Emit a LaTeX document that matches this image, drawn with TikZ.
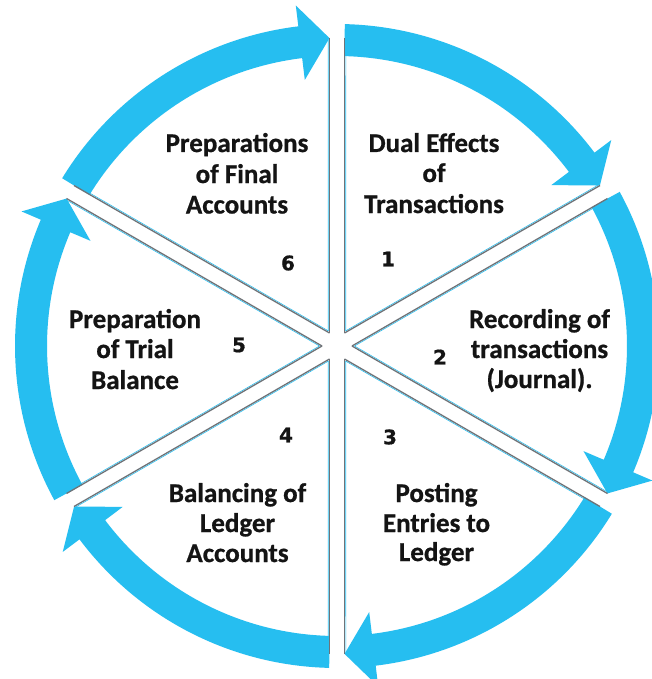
\documentclass[tikz,border=0pt]{standalone}
\usepackage{fontspec}
\setmainfont{Carlito}[BoldFeatures={FakeBold=0.8}]
\newfontfamily\numfont{DejaVu Sans}[BoldFeatures={FakeBold=0.8}]
\usetikzlibrary{calc}
\definecolor{ringblue}{RGB}{38,190,240}
\definecolor{linegray}{RGB}{110,115,120}
\definecolor{txt}{RGB}{20,20,20}
\begin{document}
\begin{tikzpicture}[x=1pt,y=1pt,
  lbl/.style={anchor=base, font=\fontsize{27}{30}\selectfont\bfseries, text=txt, inner sep=0pt},
  num/.style={anchor=center, font=\fontsize{20}{21}\selectfont\numfont\bfseries, text=txt, inner sep=0pt},
  ringarrow/.style={fill=ringblue, draw=none},
  sepline/.style={draw=linegray, line width=1.3pt},
  septint/.style={draw=ringblue, line width=0.6pt}]
\useasboundingbox (0,0) rectangle (651,-679);
\fill[white] (0,0) rectangle (651,-679);
\coordinate (c) at (337,-346);

% ring arrows (clockwise)
\foreach \A in {90,30,-30,-90,-150,-210} {
  \pgfmathsetmacro\s{\A-1.4}
  \pgfmathsetmacro\t{\A-60+1.4}
  \pgfmathsetmacro\h{\t+5.5}
  \fill[ringarrow] ($(c)+(\s:322)$) arc[start angle=\s, end angle=\h, radius=322]
     -- ($(c)+(\h:343)$) -- ($(c)+(\t:308)$) -- ($(c)+(\h:268)$)
     -- ($(c)+(\h:290)$) arc[start angle=\h, end angle=\s, radius=290] -- cycle;
}

% separator lines (wedge edges)
\foreach \p in {90,30,-30,-90,-150,-210} {
  \draw[septint] ($(c)+(\p-30:17.5)$) -- ($(c)+(\p:306)+(\p-90:8.8)$);
  \draw[septint] ($(c)+(\p+30:17.5)$) -- ($(c)+(\p:306)+(\p+90:8.8)$);
  \draw[sepline] ($(c)+(\p-30:15)$) -- ($(c)+(\p:308)+(\p-90:7.5)$);
  \draw[sepline] ($(c)+(\p+30:15)$) -- ($(c)+(\p:308)+(\p+90:7.5)$);
}

% texts
\node[lbl] (t6a) at (237,-152) {Preparations};
\node[lbl] (t6b) at (237,-183) {of Final};
\node[lbl] (t6c) at (237,-213.5) {Accounts};
\node[lbl] (t1a) at (434,-152) {Dual Effects};
\node[lbl] (t1b) at (434,-182) {of};
\node[lbl] (t1c) at (434,-213) {Transactions};
\node[lbl] (t2a) at (539.5,-328) {Recording of};
\node[lbl] (t2b) at (539.5,-358) {transactions};
\node[lbl] (t2c) at (539.5,-388) {(Journal).};
\node[lbl] (t3a) at (436.5,-502) {Posting};
\node[lbl] (t3b) at (436.5,-532) {Entries to};
\node[lbl] (t3c) at (436.5,-561) {Ledger};
\node[lbl] (t4a) at (237.5,-502) {Balancing of};
\node[lbl] (t4b) at (237.5,-532) {Ledger};
\node[lbl] (t4c) at (237.5,-562) {Accounts};
\node[lbl] (t5a) at (135,-328) {Preparation};
\node[lbl] (t5b) at (135,-358) {of Trial};
\node[lbl] (t5c) at (135,-389) {Balance};

% step numbers
\node[num] (n1) at (388,-259) {1};
\node[num] (n2) at (440,-357) {2};
\node[num] (n3) at (390,-437) {3};
\node[num] (n4) at (286,-435) {4};
\node[num] (n5) at (239,-345) {5};
\node[num] (n6) at (288,-263) {6};
\end{tikzpicture}
\end{document}
